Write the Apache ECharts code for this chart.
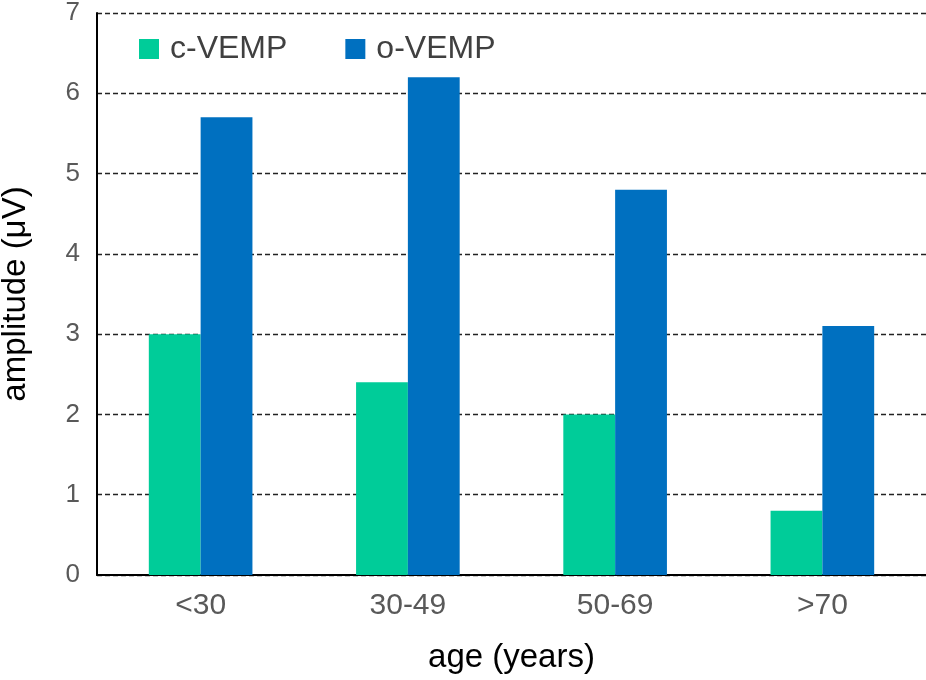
<!DOCTYPE html>
<html><head><meta charset="utf-8">
<script src="https://cdn.jsdelivr.net/npm/echarts@6/dist/echarts.min.js"></script>
<style>html,body{margin:0;padding:0;background:#fff}#c{width:926px;height:680px}</style>
</head><body><div id="c"></div>
<script>
const categories = ['<30', '30-49', '50-69', '>70'];
const cVEMP = [3.0, 2.4, 2.0, 0.8];
const oVEMP = [5.7, 6.2, 4.8, 3.1];
const yTicks = { min: 0, max: 7, interval: 1 };

const chart = echarts.init(document.getElementById('c'));
const F = 'Liberation Sans, Arial, sans-serif';
chart.setOption({
  animation: false,
  grid: { left: 97, right: 0, top: 13, bottom: 105, outerBoundsMode: 'none', containLabel: false },
  legend: {
    left: 139, top: 33, padding: 0, itemWidth: 20, itemHeight: 20, itemGap: 58,
    icon: 'rect',
    textStyle: { fontFamily: F, fontSize: 32, color: '#404040', padding: [0, 0, 0, 6] },
    data: ['c-VEMP', 'o-VEMP']
  },
  xAxis: {
    type: 'category', data: categories,
    axisLine: { lineStyle: { color: '#000', width: 2 } },
    axisTick: { show: false },
    axisLabel: { fontFamily: F, fontSize: 30, color: '#595959', margin: 16 },
    name: 'age (years)', nameLocation: 'middle', nameGap: 66,
    nameTextStyle: { fontFamily: F, fontSize: 33, color: '#000' }
  },
  yAxis: {
    type: 'value', min: yTicks.min, max: yTicks.max, interval: yTicks.interval,
    axisLine: { show: true, lineStyle: { color: '#000', width: 2 } },
    axisTick: { show: false },
    axisLabel: { fontFamily: F, fontSize: 26, color: '#595959', margin: 17 },
    splitLine: { lineStyle: { color: '#222', type: [5, 3], width: 1.3 } },
    name: 'amplitude (μV)', nameLocation: 'middle', nameGap: 65, nameRotate: 90,
    nameTextStyle: { fontFamily: F, fontSize: 33, color: '#000' }
  },
  series: [
    { name: 'c-VEMP', type: 'bar', data: cVEMP, itemStyle: { color: '#00CC99' },
      barWidth: '25%', barGap: '0%' },
    { name: 'o-VEMP', type: 'bar', data: oVEMP, itemStyle: { color: '#0070C0' },
      barWidth: '25%', barGap: '0%' }
  ]
});
</script></body></html>
